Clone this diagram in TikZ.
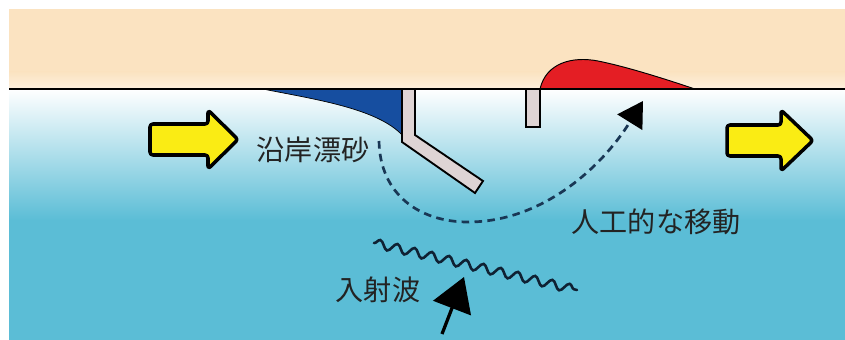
\documentclass[tikz,border=0pt]{standalone}
\usepackage{fontspec}
\setmainfont{Noto Sans CJK JP}
\usepackage{xcolor}
\usetikzlibrary{arrows.meta,decorations.pathmorphing}

\definecolor{sand}{RGB}{251,227,193}
\definecolor{sandlight}{RGB}{253,240,222}
\definecolor{sea}{RGB}{91,189,214}
\definecolor{depositblue}{RGB}{22,78,160}
\definecolor{erosionred}{RGB}{228,30,36}
\definecolor{groyne}{RGB}{222,212,212}
\definecolor{flowyellow}{RGB}{250,236,20}
\definecolor{driftline}{RGB}{25,55,85}
\definecolor{ink}{RGB}{35,35,35}

\begin{document}
\begin{tikzpicture}[
  x=0.03cm, y=-0.03cm,
  jtext/.style={text=ink, font=\fontsize{24}{28}\selectfont, inner sep=0pt},
  groynebox/.style={fill=groyne, draw=black, line width=1.6pt},
  flowarrow/.style={fill=flowyellow, draw=black, line width=3pt, line join=round, rounded corners=2.5pt},
  drift/.style={draw=driftline, line width=2.3pt, dash pattern=on 6.5pt off 4.5pt,
    -{Triangle[length=7.5mm, width=8.7mm, color=black]}},
  wave/.style={draw=driftline!60!black, line width=2.2pt, line cap=round, decorate,
    decoration={snake, amplitude=0.13cm, segment length=0.53cm}}
]
\useasboundingbox (0,0) rectangle (845,340);

% land and sea
\fill[sand] (9,9) rectangle (845,89);
\shade[top color=sand, bottom color=sandlight] (9,72) rectangle (845,89);
\shade[top color=white, bottom color=sea] (9,89) rectangle (845,220);
\fill[sea] (9,219.5) rectangle (845,340);

% accumulated sand, updrift side
\filldraw[fill=depositblue, draw=black, line width=0.6pt]
  (263,89) .. controls (312,99) and (378,108) .. (403,136) -- (403,89) -- cycle;
% eroded beach, downdrift side
\filldraw[fill=erosionred, draw=black, line width=0.8pt]
  (540,89) .. controls (546,63) and (572,56) .. (598,61)
  .. controls (628,67) and (668,80) .. (695,89) -- cycle;

% groynes
\draw[groynebox] (402,89) -- (402,142) -- (475,193) -- (483,181) -- (415,135) -- (415,89);
\draw[groynebox] (526,89) rectangle (540,127);

% shoreline
\draw[line width=2.4pt] (9,89) -- (845,89);

% longshore flow arrows
\draw[flowarrow] (150,124) -- (208,124) -- (208,110) -- (238,139.5)
  -- (208,169) -- (208,155) -- (150,155) -- cycle;
\draw[flowarrow] (727,125) -- (781,125) -- (781,110) -- (813,140.5)
  -- (781,171) -- (781,156) -- (727,156) -- cycle;

% sand bypassing path
\coordinate (from) at (379,141);
\coordinate (to) at (643,101);
\draw[drift] (from) .. controls (380,195) and (420,222) .. (468,222)
  .. controls (540,222) and (600,170) .. (to);

% incident waves
\coordinate (wavestart) at (374,243);
\coordinate (waveend) at (577,290);
\draw[wave] (wavestart) -- (waveend);
\coordinate (wavebase) at (442,334);
\coordinate (wavetip) at (464,277);
\draw[line width=2.8pt, -{Triangle[length=10mm, width=12mm]}] (wavebase) -- (wavetip);

% labels
\node[jtext] (drifttext) at (313,150) {沿岸漂砂};
\node[jtext] (movetext) at (656,222) {人工的な移動};
\node[jtext] (wavetext) at (378,290) {入射波};
\end{tikzpicture}
\end{document}
